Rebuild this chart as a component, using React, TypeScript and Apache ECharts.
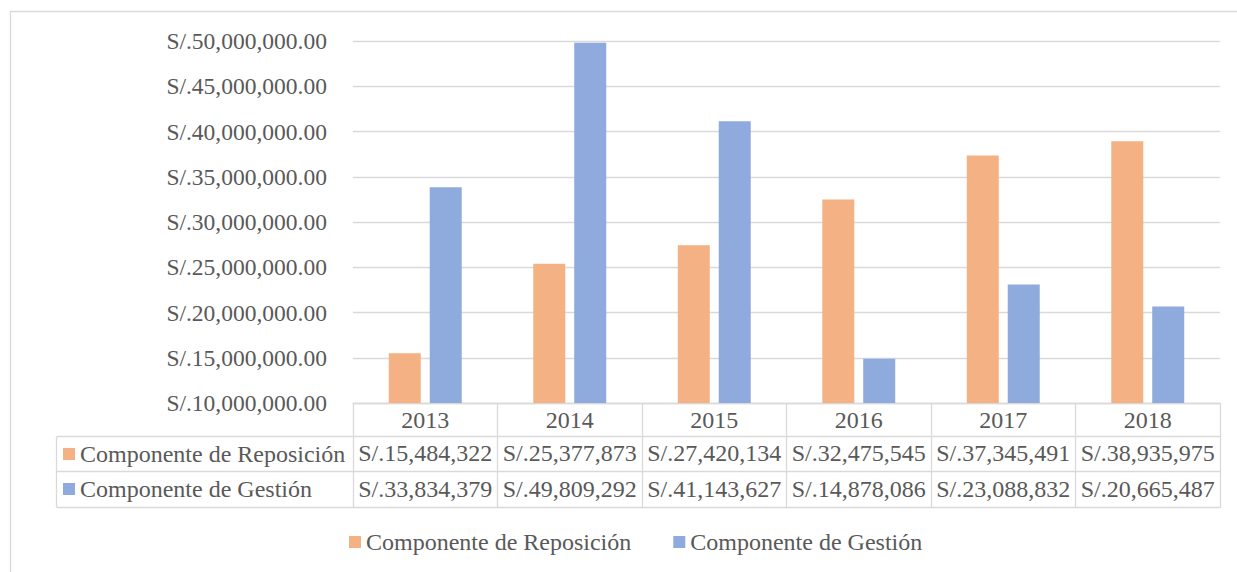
import React, { useEffect, useRef } from "react";
import * as echarts from "echarts";

const years = ["2013", "2014", "2015", "2016", "2017", "2018"];
const reposicion = [15484322, 25377873, 27420134, 32475545, 37345491, 38935975];
const gestion = [33834379, 49809292, 41143627, 14878086, 23088832, 20665487];
const seriesNames = ["Componente de Reposición", "Componente de Gestión"];
const colors = ["#F4B183", "#8FAADC"];
const yMin = 10000000;
const yMax = 50000000;
const yInterval = 5000000;

const FONT = "Liberation Serif";
const TEXT = "#595959";
const LINE = "#D9D9D9";

const fmtMoney = (v: number) => "S/." + v.toLocaleString("en-US");
const fmtAxis = (v: number) =>
  "S/." + v.toLocaleString("en-US", { minimumFractionDigits: 2, maximumFractionDigits: 2 });

export default function App() {
  const ref = useRef<HTMLDivElement>(null);
  useEffect(() => {
    if (!ref.current) return;
    const chart = echarts.init(ref.current, undefined, { renderer: "svg" });
    const tableLeft = 56.5;
    const plotLeft = 353;
    const plotRight = 1220;
    const rowTops = [436.5, 471.5, 507.5];
    const graphic: any[] = [
      {
        type: "rect",
        shape: { x: 10.5, y: 11.5, width: 1300, height: 700 },
        style: { fill: "none", stroke: LINE, lineWidth: 1.3 },
        silent: true,
      },
      ...rowTops.map((y) => ({
        type: "line",
        shape: { x1: tableLeft, y1: y, x2: plotRight, y2: y },
        style: { stroke: LINE, lineWidth: 1.3 },
        silent: true,
      })),
      {
        type: "line",
        shape: { x1: tableLeft, y1: rowTops[0], x2: tableLeft, y2: rowTops[2] },
        style: { stroke: LINE, lineWidth: 1.3 },
        silent: true,
      },
      ...seriesNames.flatMap((name, i) => [
        {
          type: "rect",
          shape: { x: 63, y: 448 + i * 35, width: 12, height: 12 },
          style: { fill: colors[i] },
          silent: true,
        },
        {
          type: "text",
          x: 80,
          y: 454 + i * 35,
          style: {
            text: name,
            fontSize: 24,
            fontFamily: FONT,
            fill: TEXT,
            verticalAlign: "middle",
            align: "left",
          },
          silent: true,
        },
      ]),
    ];
    const tableAxis = (data: string[], margin: number) => ({
      type: "category",
      position: "bottom",
      data,
      axisLine: { show: false },
      axisTick: { show: false },
      splitLine: { show: false },
      axisLabel: {
        interval: 0,
        margin,
        verticalAlign: "middle",
        fontSize: 24,
        fontFamily: FONT,
        color: TEXT,
      },
    });
    chart.setOption({
      animation: false,
      textStyle: { fontFamily: FONT },
      grid: { left: plotLeft, right: 1237 - plotRight, top: 41, bottom: 572 - 403, containLabel: false },
      legend: {
        data: seriesNames,
        left: 349,
        top: 530,
        padding: 0,
        icon: "rect",
        itemWidth: 12,
        itemHeight: 12,
        itemGap: 42,
        textStyle: { fontSize: 24, fontFamily: FONT, color: TEXT },
      },
      xAxis: [
        {
          type: "category",
          position: "bottom",
          data: years,
          axisLine: { show: true, lineStyle: { color: LINE, width: 1.3 } },
          axisTick: { show: true, interval: 0, length: 104.5, lineStyle: { color: LINE, width: 1.3 } },
          axisLabel: {
            interval: 0,
            margin: 17,
            verticalAlign: "middle",
            fontSize: 24,
            fontFamily: FONT,
            color: TEXT,
          },
        },
        tableAxis(reposicion.map(fmtMoney), 50),
        tableAxis(gestion.map(fmtMoney), 86),
      ],
      yAxis: {
        type: "value",
        min: yMin,
        max: yMax,
        interval: yInterval,
        axisLine: { show: false },
        axisTick: { show: false },
        splitLine: { lineStyle: { color: LINE, width: 1.3 } },
        axisLabel: {
          margin: 26,
          fontSize: 23.5,
          fontFamily: FONT,
          color: TEXT,
          formatter: (v: number) => fmtAxis(v),
        },
      },
      series: [
        {
          name: seriesNames[0],
          type: "bar",
          data: reposicion,
          itemStyle: { color: colors[0] },
          barWidth: 32,
          barGap: "28%",
        },
        {
          name: seriesNames[1],
          type: "bar",
          data: gestion,
          itemStyle: { color: colors[1] },
          barWidth: 32,
          barGap: "28%",
        },
      ],
      graphic,
    });
    return () => chart.dispose();
  }, []);
  return (
    <div
      ref={ref}
      style={{ position: "fixed", left: 0, top: 0, width: 1237, height: 572, background: "#fff" }}
    />
  );
}
